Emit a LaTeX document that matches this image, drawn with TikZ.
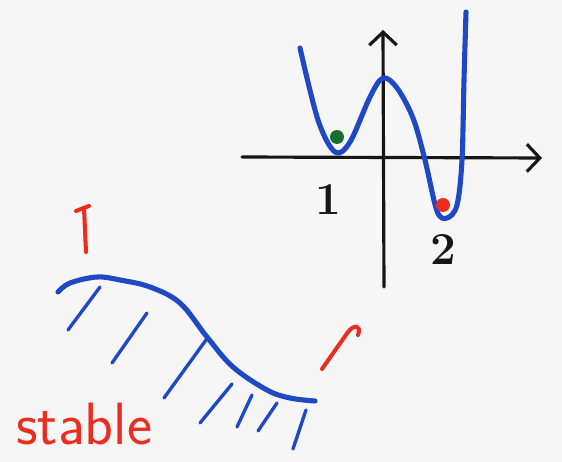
\documentclass[tikz,border=0pt]{standalone}
\usepackage{fontspec}
\usetikzlibrary{arrows.meta}
\definecolor{penblue}{RGB}{30,72,196}
\definecolor{penred}{RGB}{236,44,30}
\definecolor{pengreen}{RGB}{24,110,44}
\definecolor{penblack}{RGB}{22,22,22}
\definecolor{paper}{RGB}{246,246,246}

\begin{document}
\begin{tikzpicture}[
  x=0.02cm, y=-0.02cm,
  axis/.style={draw=penblack, line width=1.8pt, line cap=round,
    -{Straight Barb[length=2.6mm, width=5.5mm]}},
  curve/.style={draw=penblue, line width=2.9pt, line cap=round, line join=round},
  hatch/.style={draw=penblue, line width=1.9pt, line cap=round},
  redstroke/.style={draw=penred, line width=2.3pt, line cap=round, line join=round},
  label/.style={text=penblack, font=\bfseries\fontsize{26}{30}\selectfont},
  word/.style={text=penred, font=\sffamily\fontsize{34}{38}\selectfont}
]
\fill[paper] (0,0) rectangle (562,462);
\useasboundingbox (0,0) rectangle (562,462);

% Axes
\coordinate (xstart) at (242,157);
\coordinate (xend) at (542,158);
\coordinate (ystart) at (384,287);
\coordinate (yend) at (383,30);
\draw[axis] (xstart) -- (xend);
\draw[axis] (ystart) -- (yend);

% Potential
\draw[curve] plot[smooth, tension=0.55] coordinates {
  (300,48) (318,120) (335,152) (350,142) (370,97) (383,78) (397,88)
  (413,118) (425,160) (437,211) (447,218) (457,205) (462,160) (464,80)
  (466,12)};

% Balls
\fill[pengreen] (337,137) circle (7);
\fill[penred] (443,205) circle (7);

% Labels
\node[label, anchor=base] (one) at (328,215) {1};
\node[label, anchor=base] (two) at (443,265) {2};

% Slope
\draw[curve] plot[smooth, tension=0.6] coordinates {
  (58,292) (70,283) (97,277) (120,280) (150,287) (180,303) (207,337)
  (233,367) (267,390) (290,398) (315,401)};
\draw[hatch] (68,330) -- (100,287);
\draw[hatch] (112,363) -- (147,313);
\draw[hatch] (164,398) -- (206,340);
\draw[hatch] (200,423) -- (232,384);
\draw[hatch] (237,427) -- (252,395);
\draw[hatch] (258,431) -- (277,403);
\draw[hatch] (293,449) -- (306,410);

% Red arrows
\draw[redstroke] (86,252) -- (84,208);
\draw[redstroke] (76,211) -- (89,206);
\draw[redstroke] (322,369) -- (348,332) .. controls (354,324) and (362,325) .. (358,335);

\node[word, anchor=base west] (stable) at (10,445) {stable};
\end{tikzpicture}
\end{document}
